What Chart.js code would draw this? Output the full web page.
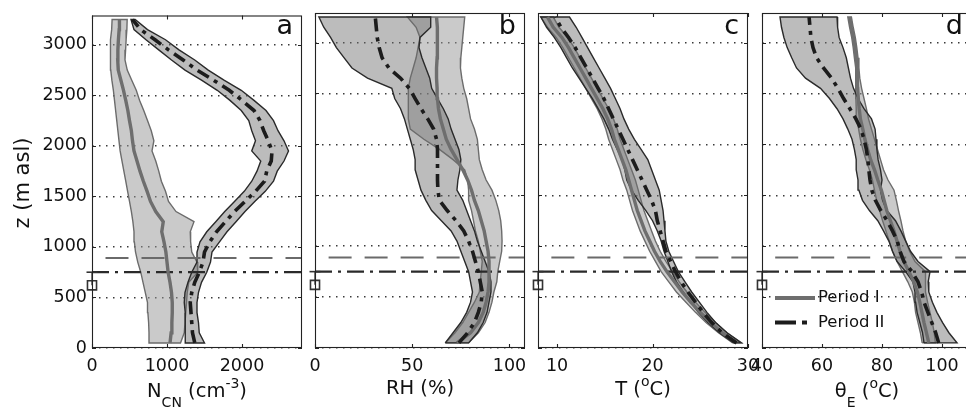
<!DOCTYPE html>
<html>
<head>
<meta charset="utf-8">
<title>Vertical profiles, periods I and II</title>
<script src="https://cdn.jsdelivr.net/npm/chart.js@4.4.1/dist/chart.umd.min.js"></script>
<style>
  html, body { margin:0; padding:0; background:#ffffff; width:966px; height:409px; overflow:hidden; }
  #wrap { position:relative; width:966px; height:409px; overflow:hidden; }
  #wrap canvas { position:absolute; left:0; top:0; }
</style>
</head>
<body>
<div id="wrap">
  <canvas id="pa" width="980" height="409"></canvas>
  <canvas id="pb" width="980" height="409"></canvas>
  <canvas id="pc" width="980" height="409"></canvas>
  <canvas id="pd" width="980" height="409"></canvas>
</div>
<script>
// ---------------- data ----------------
const zLevels = [50,150,250,350,450,550,650,750,850,950,1050,1150,1250,1350,1450,1550,1650,1750,1850,1950,2050,2150,2250,2350,2450,2550,2650,2750,2850,2950,3050,3150,3250];
const seriesNames = ['Period I', 'Period II'];
const yTicks = [0,500,1000,1500,2000,2500,3000];
const xTicksA = [0,1000,2000];
const xTicksB = [0,50,100];
const xTicksC = [10,20,30];
const xTicksD = [40,60,80,100];
const panelLetters = ['a','b','c','d'];
const yAxisTitle = 'z (m asl)';

// panel a : N_CN (cm-3)
const aI_lo   = [770,760,755,745,740,710,680,650,610,580,565,560,545,525,500,475,450,425,400,375,360,345,330,315,300,285,265,250,244,245,250,262,268];
const aI_mean = [1040,1055,1065,1070,1070,1060,1040,1015,1000,985,960,930,950,850,780,735,685,640,600,560,540,525,500,478,450,420,385,350,343,345,352,362,366];
const aI_hi   = [1180,1230,1240,1250,1260,1270,1290,1410,1400,1330,1315,1310,1360,1120,1020,980,925,890,850,800,825,790,740,690,635,590,530,470,440,448,455,465,469];
const aII_lo   = [1250,1250,1240,1240,1230,1240,1280,1330,1400,1400,1440,1530,1650,1770,1900,2030,2130,2200,2250,2130,2180,2130,2090,1990,1840,1670,1460,1240,1060,890,720,560,520];
const aII_mean = [1370,1340,1330,1320,1310,1330,1370,1430,1480,1500,1570,1660,1780,1900,2040,2180,2300,2330,2390,2400,2350,2290,2240,2160,2000,1830,1620,1400,1215,1020,840,650,540];
const aII_hi   = [1500,1430,1420,1400,1400,1420,1460,1530,1580,1600,1700,1800,1920,2040,2170,2310,2420,2470,2560,2620,2560,2480,2420,2320,2160,1990,1760,1550,1370,1160,980,740,575];

// panel b : RH (%)
const bI_lo   = [67,72,76,79,82,84.5,85,85.5,86,85,84,82.5,81.5,80.5,79,79,78.5,77,71,64,56,49,48,48,48,48,49,50.5,52,53,54,52,47.5];
const bI_mean = [73,80,84,86.5,88,89,89.5,89.5,89.5,89,88,87,85.5,84,82,80.5,78.5,76,73,70,67.5,66,64.5,63.5,63,62.8,62.5,62.5,62.8,63,63,62.8,62.5];
const bI_hi   = [79,84,87.5,89.5,91,92,93.5,94,95,96,96.2,96,95.5,94.5,93,91,88,86,84.5,84,83.5,82,80,79,78,76.5,75.5,74.8,75,75.5,76,76.5,77];
const bII_lo   = [67,71,75,78,80,81,80,79,77,75,73,70,65,60,57,54.5,53,51.5,51.5,50.5,49,47.5,46,44,41,39.5,27,19,15,11,8,4.5,2];
const bII_mean = [74,78.5,82,84,85.5,86,85,84,82.5,81,79,76.5,72.5,68,64,63.2,63,63,63,63,62.5,61,58,54.5,51.5,48.5,44,38,34.5,33,32,31.5,31];
const bII_hi   = [79,83.5,86.5,88.5,89.5,90.5,90.5,89.5,87.5,85.5,83.5,82,80,78,76,73,73.5,74.5,75,74,72,70,68.5,66,63,60,59,57,55,53.5,54,59.5,59.5];

// panel c : T (oC)
const cI_lo   = [28.4,26.9,25.6,24.5,23.5,22.5,21.7,20.9,20.3,19.7,19.2,18.7,18.3,17.9,17.6,17.3,16.9,16.6,16.2,15.8,15.4,15.1,14.7,14.2,13.6,13.0,12.4,11.8,11.2,10.6,9.9,9.0,8.3];
const cI_mean = [28.8,27.3,26.1,25.0,24.0,23.1,22.3,21.5,20.8,20.2,19.7,19.2,18.8,18.4,18.1,17.8,17.5,17.2,16.8,16.4,16.0,15.7,15.3,14.8,14.2,13.6,13.0,12.4,11.8,11.2,10.5,9.6,9.0];
const cI_hi   = [29.3,27.8,26.6,25.5,24.5,23.6,22.8,22.1,21.4,20.8,20.3,19.9,19.5,19.1,18.8,18.5,18.2,17.8,17.4,17.0,16.6,16.3,15.9,15.4,14.8,14.2,13.6,13.0,12.4,11.8,11.1,10.2,9.6];
const cII_lo   = [28.5,27.0,25.8,24.8,24.0,23.2,22.5,22.0,21.6,21.2,20.9,20.5,20.0,19.3,18.5,17.8,17.3,17.1,16.8,16.3,15.8,15.4,14.9,14.3,13.7,13.0,12.3,11.6,11.0,10.4,9.7,8.9,8.3];
const cII_mean = [28.8,27.3,26.2,25.3,24.5,23.7,23.0,22.4,21.9,21.4,21.1,20.8,20.5,20.3,19.9,19.4,18.9,18.4,17.9,17.4,16.9,16.4,15.9,15.4,14.9,14.3,13.7,13.1,12.5,11.9,11.2,10.4,9.8];
const cII_hi   = [29.3,27.8,26.6,25.7,24.9,24.1,23.4,22.7,22.2,21.7,21.4,21.3,21.2,21.1,20.9,20.7,20.3,19.9,19.5,18.8,18.1,17.5,17.0,16.6,16.1,15.6,15.0,14.4,13.8,13.2,12.6,12.0,11.3];

// panel d : theta_E (oC)
const dI_lo   = [93.4,92.8,92,91.2,90.8,90.1,88.6,86.8,85,83.5,82.4,81.3,80.2,79.2,78.2,77.5,76.8,75.8,74.6,73.6,72.8,72.2,71.6,71.4,71.3,71.3,71.3,71.1,70.8,70.4,69.9,69.2,68.6];
const dI_mean = [95.6,94.8,94,93.3,92.6,91.8,90.6,89,87.3,86,85,84,82.8,81.6,80.7,79.8,78.6,77.5,76.2,75.2,74.3,73.6,72.8,72.4,72.1,71.9,71.9,71.7,71.4,71,70.5,69.8,69.2];
const dI_hi   = [97.8,97.4,96.8,96,95.2,94.5,94.5,94.5,91,89.2,87.9,87,86.3,85.5,84.8,84,82,80.5,79.5,78.5,77.5,76.5,75.5,74.8,74,73.2,72.6,72.3,72,71.6,71.1,70.4,69.8];
const dII_lo   = [94,93.5,92.6,91.7,91.2,91,90.3,87.9,85,83.5,82.3,80.5,78.6,75.8,73.5,72.3,72,71.4,71.4,70.8,70,68.6,67,65,62.5,59.5,54.5,51.5,49.9,48.4,47.3,46.5,46];
const dII_mean = [98.9,97.9,96.6,95.3,94,93.2,92,90,87.3,86,85.1,83.5,81.7,79.6,77.8,76.6,76,75.6,75.3,74.8,74,73,71.3,69.3,67.2,65.3,63.2,60.5,58.2,57,56.3,56,55.7];
const dII_hi   = [105,102.3,100.2,98.3,96.8,95.6,95.4,96,92,89.5,87.9,86.3,84.5,81.6,80.2,79.5,80,79.5,78.7,78.3,78,77.7,76.5,74,72,70.5,69.5,68.8,68.1,67,65.7,65.2,65];

// reference heights (m)
const dashedLevel = [890];
const dashDotLevel = [750];
const cloudBase = [620];
const cloudBaseTop = [750];
const dashedStart = [180, 7, 9.4, 44.4];

// ---------------- style / layout ----------------
const W = 980, H = 409, TOP = 13, BOTTOM = 348, YMAX = 3290;
const FONT = '"DejaVu Sans", "Liberation Sans", Arial, sans-serif';
const TXT = '#111111';
const I_FILL = 'rgba(150,150,150,0.5)', I_EDGE = '#6c6c6c', I_LINE = '#6e6e6e';
const II_FILL = 'rgba(110,110,110,0.46)', II_EDGE = '#2a2a2a', II_LINE = '#1c1c1c';
const DASH_II = [13, 6, 4, 6];

function pts(xs) { return zLevels.map((z, i) => ({x: xs[i], y: z})); }
function band(lo, hi) { const a = pts(lo); const b = pts(hi).reverse(); return a.concat(b, [a[0]]); }

const panels = [
  {id:'pa', left:92,  right:302, xMin:0,  xMax:2800, xTicks:xTicksA, showY:true,  legend:false,
   title:[['N',0],['CN',1],[' (cm',0],['-3',2],[')',0]], titleBase:397,
   I:[aI_lo,aI_mean,aI_hi], II:[aII_lo,aII_mean,aII_hi]},
  {id:'pb', left:315, right:525, xMin:0,  xMax:108,  xTicks:xTicksB, showY:false, legend:false,
   title:[['RH (%)',0]], titleBase:394,
   I:[bI_lo,bI_mean,bI_hi], II:[bII_lo,bII_mean,bII_hi]},
  {id:'pc', left:538, right:748, xMin:8,  xMax:30,   xTicks:xTicksC, showY:false, legend:false,
   title:[['T (',0],['o',2],['C)',0]], titleBase:395,
   I:[cI_lo,cI_mean,cI_hi], II:[cII_lo,cII_mean,cII_hi]},
  {id:'pd', left:762, right:972, xMin:40, xMax:110,  xTicks:xTicksD, showY:false, legend:true,
   title:[['\u03B8',0],['E',1],[' (',0],['o',2],['C)',0]], titleBase:397,
   I:[dI_lo,dI_mean,dI_hi], II:[dII_lo,dII_mean,dII_hi]}
];

function drawRich(ctx, parts, cx, baseY, size) {
  const small = Math.round(size * 0.7);
  let w = 0;
  const widths = parts.map(([t, mode]) => {
    ctx.font = (mode ? small : size) + 'px ' + FONT;
    const tw = ctx.measureText(t).width; w += tw; return tw;
  });
  let x = cx - w / 2;
  ctx.textAlign = 'left'; ctx.textBaseline = 'alphabetic';
  parts.forEach(([t, mode], i) => {
    ctx.font = (mode ? small : size) + 'px ' + FONT;
    const dy = mode === 1 ? size * 0.5 : (mode === 2 ? -size * 0.48 : 0);
    ctx.fillText(t, x, baseY + dy);
    x += widths[i];
  });
}

function decor(p, idx) {
  return {
    id: 'decor' + idx,
    afterDatasetsDraw(chart) {
      const ctx = chart.ctx, a = chart.chartArea, xs = chart.scales.x, ys = chart.scales.y;
      ctx.save();
      ctx.setLineDash([]);
      ctx.strokeStyle = '#222'; ctx.lineWidth = 1.1;
      ctx.strokeRect(a.left + 0.5, a.top + 0.5, a.right - a.left - 1, a.bottom - a.top - 1);
      ctx.beginPath();
      p.xTicks.forEach(v => {
        const px = Math.round(xs.getPixelForValue(v)) + 0.5;
        ctx.moveTo(px, a.bottom); ctx.lineTo(px, a.bottom - 4);
        ctx.moveTo(px, a.top); ctx.lineTo(px, a.top + 4);
      });
      yTicks.forEach(v => {
        const py = Math.round(ys.getPixelForValue(v)) + 0.5;
        ctx.moveTo(a.left, py); ctx.lineTo(a.left + 4, py);
        ctx.moveTo(a.right, py); ctx.lineTo(a.right - 4, py);
      });
      ctx.stroke();
      ctx.restore();
    },
    afterDraw(chart) {
      const ctx = chart.ctx, a = chart.chartArea;
      ctx.save();
      ctx.fillStyle = TXT;
      drawRich(ctx, p.title, (a.left + a.right) / 2, p.titleBase, 19.5);
      ctx.font = '27px ' + FONT;
      ctx.textAlign = 'right'; ctx.textBaseline = 'alphabetic';
      ctx.fillText(panelLetters[idx], a.right - 9, 34);
      if (p.showY) {
        ctx.save();
        ctx.translate(24, 183);
        ctx.rotate(-Math.PI / 2);
        ctx.font = '21px ' + FONT;
        ctx.textAlign = 'center'; ctx.textBaseline = 'middle';
        ctx.fillText(yAxisTitle, 0, 0);
        ctx.restore();
      }
      if (p.legend) {
        const L = a.left, B = a.bottom;
        ctx.lineCap = 'butt';
        ctx.strokeStyle = I_LINE; ctx.lineWidth = 4.2; ctx.setLineDash([]);
        ctx.beginPath(); ctx.moveTo(L + 13, B - 50); ctx.lineTo(L + 53, B - 50); ctx.stroke();
        ctx.strokeStyle = II_LINE; ctx.lineWidth = 4.2; ctx.setLineDash([21, 6, 5, 40]);
        ctx.beginPath(); ctx.moveTo(L + 13, B - 25.5); ctx.lineTo(L + 47, B - 25.5); ctx.stroke();
        ctx.setLineDash([]);
        ctx.font = '16.5px ' + FONT; ctx.textAlign = 'left'; ctx.textBaseline = 'middle';
        ctx.fillText(seriesNames[0], L + 56, B - 50);
        ctx.fillText(seriesNames[1], L + 56, B - 25.5);
      }
      ctx.restore();
    }
  };
}

Chart.defaults.font.family = FONT;

panels.forEach((p, idx) => {
  const datasets = [
    {label: seriesNames[0] + ' range', data: band(p.I[0], p.I[2]), showLine: true, fill: 'shape',
     backgroundColor: I_FILL, borderColor: I_EDGE, borderWidth: 1.4, pointRadius: 0, tension: 0, order: 10},
    {label: seriesNames[1] + ' range', data: band(p.II[0], p.II[2]), showLine: true, fill: 'shape',
     backgroundColor: II_FILL, borderColor: II_EDGE, borderWidth: 1.4, pointRadius: 0, tension: 0, order: 9},
    {label: 'dashed level', data: [{x: dashedStart[idx], y: dashedLevel[0]}, {x: p.xMax, y: dashedLevel[0]}],
     showLine: true, borderColor: '#6a6a6a', borderWidth: 2, borderDash: [23, 13], pointRadius: 0, order: 5},
    {label: 'dash-dot level', data: [{x: p.xMin, y: dashDotLevel[0]}, {x: p.xMax, y: dashDotLevel[0]}],
     showLine: true, borderColor: '#2a2a2a', borderWidth: 2.3, borderDash: [17, 6, 3, 6], pointRadius: 0, order: 4},
    {label: seriesNames[0], data: pts(p.I[1]), showLine: true, borderColor: I_LINE, borderWidth: 3.4,
     pointRadius: 0, tension: 0, order: 2},
    {label: seriesNames[1], data: pts(p.II[1]), showLine: true, borderColor: II_LINE, borderWidth: 3.6,
     borderDash: DASH_II, borderCapStyle: 'butt', pointRadius: 0, tension: 0, order: 1},
    {label: 'cloud base bar', data: [{x: p.xMin, y: cloudBase[0]}, {x: p.xMin, y: cloudBaseTop[0]}],
     showLine: true, borderColor: '#333', borderWidth: 1.3, pointRadius: [0, 5.5], pointStyle: 'line',
     pointBorderColor: '#333', pointBorderWidth: 1.6, clip: false, order: 0},
    {label: 'cloud base', data: [{x: p.xMin, y: cloudBase[0]}], showLine: false, pointStyle: 'rect',
     pointRadius: 6.4, pointBorderColor: '#333', pointBorderWidth: 1.6, pointBackgroundColor: 'rgba(0,0,0,0)',
     clip: false, order: 0}
  ];
  new Chart(document.getElementById(p.id), {
    type: 'scatter',
    data: {datasets},
    options: {
      responsive: false, animation: false, events: [],
      layout: {autoPadding: false, padding: {left: 0, right: W - p.right, top: TOP, bottom: 0}},
      plugins: {legend: {display: false}, tooltip: {enabled: false}},
      scales: {
        x: {
          type: 'linear', position: 'bottom', min: p.xMin, max: p.xMax,
          afterFit: s => { s.height = H - BOTTOM; },
          afterBuildTicks: s => { s.ticks = p.xTicks.map(v => ({value: v})); },
          grid: {display: false, drawTicks: false},
          border: {display: false},
          ticks: {font: {family: FONT, size: 17.5}, color: TXT, padding: 8, maxRotation: 0, autoSkip: false,
                  callback: v => String(v)}
        },
        y: {
          type: 'linear', position: 'left', min: 0, max: YMAX,
          afterFit: s => { s.width = p.left; },
          afterBuildTicks: s => { s.ticks = yTicks.map(v => ({value: v})); },
          grid: {display: true, drawTicks: false, color: '#3a3a3a', lineWidth: 1.4},
          border: {display: false, dash: [1.5, 5.5]},
          ticks: {display: p.showY, font: {family: FONT, size: 17.5}, color: TXT, padding: 5, autoSkip: false,
                  callback: v => String(v)}
        }
      }
    },
    plugins: [decor(p, idx)]
  });
});
</script>
</body>
</html>
